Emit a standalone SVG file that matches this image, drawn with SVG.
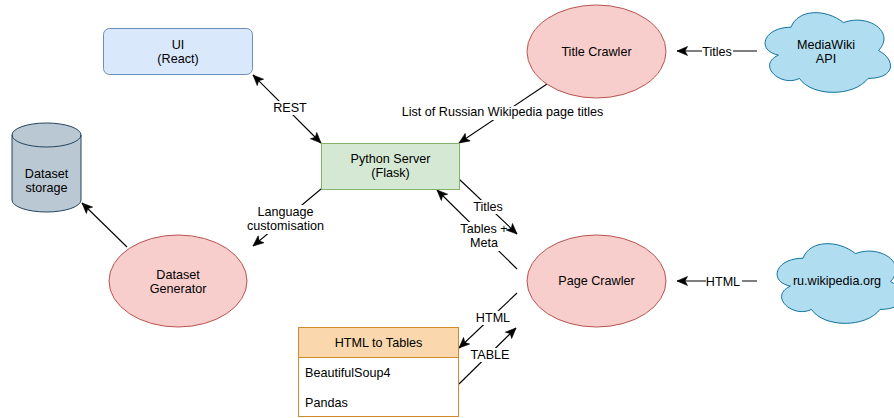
<svg xmlns="http://www.w3.org/2000/svg" width="894" height="418" viewBox="0 0 894 418">
<style>
  text { font-family: "Liberation Sans", Arial, Helvetica, sans-serif; font-size: 12.6px; fill: #000; }
  .c { text-anchor: middle; }
  .edge { fill: none; stroke: #000; stroke-width: 1.1; }
  .lbl { fill: #fff; }
  .ell { fill: #f8cecc; stroke: #b85450; stroke-width: 1; }
  .cloud { fill: #b1ddf0; stroke: #10739e; stroke-width: 1; }
</style>
<defs>
  <marker id="arr" markerUnits="userSpaceOnUse" markerWidth="12" markerHeight="10" refX="11" refY="5" orient="auto-start-reverse" viewBox="0 0 12 10">
    <path d="M0.5,0.5 L11,5 L0.5,9.5 L3,5 Z" fill="#000" stroke="#000" stroke-width="0.6"/>
  </marker>
  <path id="cloudShape" d="M35,23.25 C7,23.25 0,46.5 22.4,51.15 C0,61.38 25.2,83.7 43.4,74.4 C56,93 98,93 112,74.4 C140,74.4 140,55.8 122.5,46.5 C140,27.9 112,9.3 87.5,18.6 C70,4.65 42,4.65 35,23.25 Z"/>
</defs>
<rect width="894" height="418" fill="#fff"/>

<g id="connectors">
  <g id="e-ui-server">
    <line class="edge" x1="253" y1="75" x2="321" y2="143" marker-start="url(#arr)" marker-end="url(#arr)"/>
    <rect class="lbl" x="273" y="101" width="35" height="14"/>
    <text class="c" x="290" y="112">REST</text>
  </g>
  <g id="e-title-server">
    <line class="edge" x1="547" y1="84" x2="459" y2="143" marker-end="url(#arr)"/>
    <rect class="lbl" x="401" y="106" width="204" height="14"/>
    <text class="c" x="502.5" y="116">List of Russian Wikipedia page titles</text>
  </g>
  <g id="e-mediawiki-title">
    <line class="edge" x1="757" y1="51" x2="677" y2="51" marker-end="url(#arr)"/>
    <rect class="lbl" x="702" y="45" width="31" height="14"/>
    <text class="c" x="717" y="56">Titles</text>
  </g>
  <g id="e-page-server">
    <line class="edge" x1="517" y1="269" x2="437" y2="190" marker-end="url(#arr)"/>
    <rect class="lbl" x="460" y="222" width="49" height="29"/>
    <text class="c" x="484" y="233">Tables +</text>
    <text class="c" x="484" y="247">Meta</text>
  </g>
  <g id="e-server-page">
    <line class="edge" x1="459" y1="179" x2="517" y2="234" marker-end="url(#arr)"/>
    <rect class="lbl" x="472" y="200" width="32" height="14"/>
    <text class="c" x="488" y="211">Titles</text>
  </g>
  <g id="e-page-html">
    <line class="edge" x1="517" y1="293" x2="459" y2="348" marker-end="url(#arr)"/>
    <rect class="lbl" x="476" y="311" width="36" height="14"/>
    <text class="c" x="493" y="322">HTML</text>
  </g>
  <g id="e-html-page">
    <line class="edge" x1="459" y1="384" x2="516" y2="328" marker-end="url(#arr)"/>
    <rect class="lbl" x="470" y="348" width="40" height="14"/>
    <text class="c" x="490" y="359">TABLE</text>
  </g>
  <g id="e-ru-page">
    <line class="edge" x1="757" y1="281" x2="677" y2="281" marker-end="url(#arr)"/>
    <rect class="lbl" x="706" y="275" width="36" height="14"/>
    <text class="c" x="723" y="286">HTML</text>
  </g>
  <g id="e-server-generator">
    <line class="edge" x1="321" y1="189" x2="253" y2="246" marker-end="url(#arr)"/>
    <rect class="lbl" x="246" y="205" width="79" height="29"/>
    <text class="c" x="285.5" y="216">Language</text>
    <text class="c" x="285.5" y="230">customisation</text>
  </g>
  <g id="e-generator-storage">
    <line class="edge" x1="127" y1="247" x2="82" y2="203" marker-end="url(#arr)"/>
  </g>
</g>

<g id="ui">
  <rect x="103.5" y="28.5" width="149" height="46" rx="6" ry="6" fill="#dae8fc" stroke="#6c8ebf"/>
  <text class="c" x="178" y="49">UI</text>
  <text class="c" x="178" y="63">(React)</text>
</g>

<g id="python-server">
  <rect x="321.5" y="143.5" width="138" height="46" fill="#d5e8d4" stroke="#82b366"/>
  <text class="c" x="390.5" y="163">Python Server</text>
  <text class="c" x="390.5" y="177">(Flask)</text>
</g>

<g id="dataset-storage">
  <path d="M12,135 A34.5,12 0 0 1 81,135 L81,200 A34.5,12 0 0 1 12,200 Z" fill="#bac8d3" stroke="#23445d"/>
  <path d="M12,135 A34.5,12 0 0 0 81,135" fill="none" stroke="#23445d"/>
  <text class="c" x="46.5" y="178">Dataset</text>
  <text class="c" x="46.5" y="192">storage</text>
</g>

<g id="dataset-generator">
  <ellipse class="ell" cx="178" cy="281" rx="69" ry="46"/>
  <text class="c" x="178" y="279">Dataset</text>
  <text class="c" x="178" y="293">Generator</text>
</g>

<g id="title-crawler">
  <ellipse class="ell" cx="596.5" cy="51.5" rx="69.5" ry="46.5"/>
  <text class="c" x="596.5" y="56">Title Crawler</text>
</g>

<g id="mediawiki-api">
  <use href="#cloudShape" class="cloud" transform="translate(756,4)"/>
  <text class="c" x="826" y="49">MediaWiki</text>
  <text class="c" x="826" y="63">API</text>
</g>

<g id="page-crawler">
  <ellipse class="ell" cx="596.5" cy="281" rx="69.5" ry="46"/>
  <text class="c" x="596.5" y="285">Page Crawler</text>
</g>

<g id="ru-wikipedia">
  <use href="#cloudShape" class="cloud" transform="translate(768,235)"/>
  <text class="c" x="837" y="285">ru.wikipedia.org</text>
</g>

<g id="html-to-tables">
  <rect x="298.5" y="327.5" width="160" height="89" fill="#fff" stroke="#d08a2a"/>
  <rect x="298.5" y="327.5" width="160" height="30" fill="#fad7ac" stroke="#d08a2a"/>
  <text class="c" x="378.5" y="347">HTML to Tables</text>
  <text x="305" y="377">BeautifulSoup4</text>
  <text x="305" y="407">Pandas</text>
</g>
</svg>
